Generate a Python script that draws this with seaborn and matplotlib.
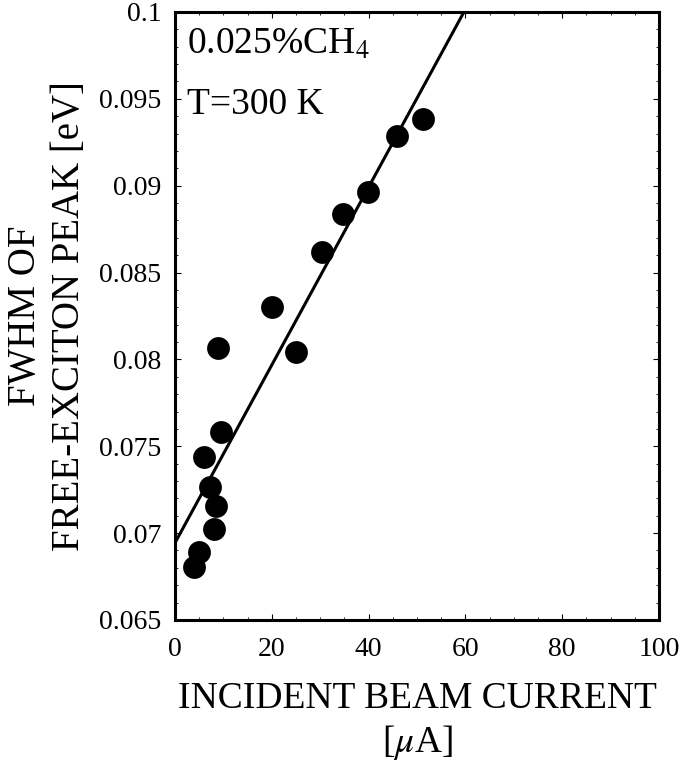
import matplotlib
matplotlib.use("Agg")
import matplotlib.pyplot as plt
import seaborn as sns
import pandas as pd
from matplotlib.ticker import MultipleLocator, FixedLocator

beam_current = [3.9, 5.0, 8.1, 8.5, 7.2, 6.0, 9.5, 8.9, 20.0, 25.0, 30.4, 34.7, 39.9, 45.9, 51.2]
fwhm = [0.06806, 0.06892, 0.07025, 0.07157, 0.07267, 0.07440, 0.07584, 0.08068,
        0.08299, 0.08040, 0.08616, 0.08835, 0.08962, 0.09285, 0.09383]
fit_x = [0.0, 59.7]
fit_y = [0.06944, 0.1]
x_ticks = [0, 20, 40, 60, 80, 100]
y_ticks = [0.065, 0.07, 0.075, 0.08, 0.085, 0.09, 0.095, 0.1]
y_tick_labels = ["0.065", "0.07", "0.075", "0.08", "0.085", "0.09", "0.095", "0.1"]

sns.set_theme(style="ticks")
plt.rcParams["font.family"] = ["Liberation Serif", "DejaVu Serif"]
plt.rcParams["mathtext.fontset"] = "stix"
plt.rcParams["text.color"] = "black"
plt.rcParams["axes.labelcolor"] = "black"
plt.rcParams["xtick.color"] = "black"
plt.rcParams["ytick.color"] = "black"

df = pd.DataFrame({"x": beam_current, "y": fwhm})
fit = pd.DataFrame({"x": fit_x, "y": fit_y})

fig = plt.figure(figsize=(6.85, 7.73), dpi=100)
ax = fig.add_axes([0.2555, 0.198, 0.7065, 0.7865])

sns.lineplot(data=fit, x="x", y="y", ax=ax, color="black", linewidth=2.2)
sns.scatterplot(data=df, x="x", y="y", ax=ax, color="black", s=270,
                edgecolor="black", linewidth=0, zorder=3)

ax.set_xlim(0, 100)
ax.set_ylim(0.065, 0.1)
ax.xaxis.set_major_locator(FixedLocator(x_ticks))
ax.xaxis.set_minor_locator(MultipleLocator(5))
ax.yaxis.set_major_locator(FixedLocator(y_ticks))
ax.yaxis.set_minor_locator(MultipleLocator(0.001))
ax.set_xticklabels([str(t) for t in x_ticks])
ax.set_yticklabels(y_tick_labels)
ax.tick_params(axis="both", which="major", direction="in", length=4, width=0.8,
               labelsize=20, top=True, right=True, colors="black")
ax.tick_params(axis="x", which="major", pad=12)
ax.tick_params(axis="y", which="major", pad=10)
ax.tick_params(axis="both", which="minor", direction="in", length=2.5, width=0.6,
               top=True, right=True)
for sp in ax.spines.values():
    sp.set_linewidth(2.2)
    sp.set_color("black")
    sp.set_visible(True)

ax.set_xlabel("INCIDENT BEAM CURRENT\n[$\\mu$A]", fontsize=27, labelpad=14,
              linespacing=1.25)
ax.set_ylabel("FWHM OF\nFREE-EXCITON PEAK [eV]", fontsize=28, labelpad=8,
              linespacing=1.25)

ax.text(0.025, 0.975, "0.025%CH$_4$", transform=ax.transAxes, fontsize=27,
        va="top", ha="left")
ax.text(0.025, 0.875, "T=300 K", transform=ax.transAxes, fontsize=27,
        va="top", ha="left")

fig.savefig("out.png", dpi=100, facecolor="white")
